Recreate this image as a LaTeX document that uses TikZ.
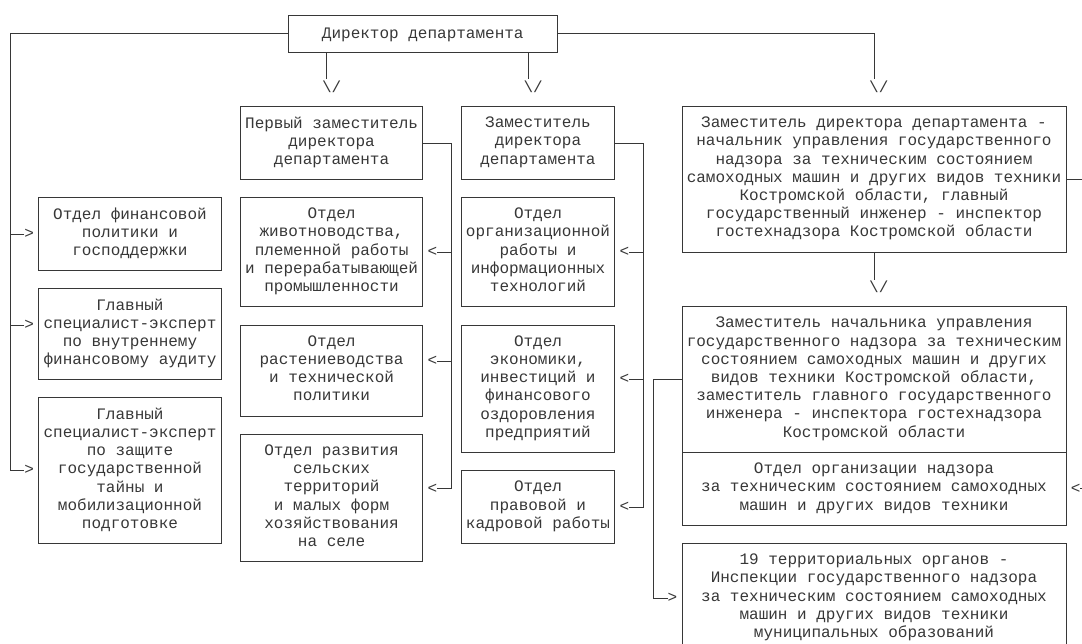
\documentclass[tikz,border=0pt]{standalone}
\usepackage{fontspec}
\newfontfamily\cmono{Liberation Mono}
\newcommand\rs{\rule[-4.9pt]{0pt}{18.2pt}}
\definecolor{ln}{RGB}{55,55,55}
\definecolor{tx}{RGB}{55,55,55}
\begin{document}
\begin{tikzpicture}[x=9.6pt,y=-18.2pt,
  box/.style={draw=ln, line width=0.9pt, rectangle, inner sep=0pt, outer sep=0pt,
    align=center, font={\cmono\fontsize{16pt}{18.2pt}\selectfont}, text=tx,
    execute at begin node=\rs, execute at end node=\rs},
  sz/.style 2 args={minimum width=#1*9.6pt, minimum height=#2*18.2pt},
  glyph/.style={inner sep=0pt, outer sep=0pt, font={\cmono\fontsize{16pt}{18.2pt}\selectfont},
    text=tx, execute at begin node=\rs},
  conn/.style={draw=ln, line width=0.9pt}]
\useasboundingbox (-1.0417,-0.8626) rectangle (111.6667,34.522);

% boxes
\node[box, sz={28}{2}] (dir) at (43,1) {Директор департамента};
\node[box, sz={19}{4}] (fd) at (33.5,7) {Первый заместитель\\директора\\департамента};
\node[box, sz={16}{4}] (dep) at (55,7) {Заместитель\\директора\\департамента};
\node[box, sz={40}{8}] (rb) at (90,9) {Заместитель директора департамента -\\начальник управления государственного\\надзора за техническим состоянием\\самоходных машин и других видов техники\\Костромской области, главный\\государственный инженер - инспектор\\гостехнадзора Костромской области};

\node[box, sz={19}{4}] (b1) at (12.5,12) {Отдел финансовой\\политики и\\господдержки};
\node[box, sz={19}{5}] (b2) at (12.5,17.5) {Главный\\специалист-эксперт\\по внутреннему\\финансовому аудиту};
\node[box, sz={19}{8}] (b3) at (12.5,25) {Главный\\специалист-эксперт\\по защите\\государственной\\тайны и\\мобилизационной\\подготовке};

\node[box, sz={19}{6}] (d1) at (33.5,13) {Отдел\\животноводства,\\племенной работы\\и перерабатывающей\\промышленности};
\node[box, sz={19}{5}] (d2) at (33.5,19.5) {Отдел\\растениеводства\\и технической\\политики};
\node[box, sz={19}{7}] (d3) at (33.5,26.5) {Отдел развития\\сельских\\территорий\\и малых форм\\хозяйствования\\на селе};

\node[box, sz={16}{6}] (e1) at (55,13) {Отдел\\организационной\\работы и\\информационных\\технологий};
\node[box, sz={16}{7}] (e2) at (55,20.5) {Отдел\\экономики,\\инвестиций и\\финансового\\оздоровления\\предприятий};
\node[box, sz={16}{4}] (e3) at (55,27) {Отдел\\правовой и\\кадровой работы};

\node[box, sz={40}{8}] (dc) at (90,20) {Заместитель начальника управления\\государственного надзора за техническим\\состоянием самоходных машин и других\\видов техники Костромской области,\\заместитель главного государственного\\инженера - инспектора гостехнадзора\\Костромской области};
\node[box, sz={40}{4}] (sub) at (90,26) {Отдел организации надзора\\за техническим состоянием самоходных\\машин и других видов техники};
\node[box, sz={40}{6}] (t19) at (90,32) {19 территориальных органов -\\Инспекции государственного надзора\\за техническим состоянием самоходных\\машин и других видов техники\\муниципальных образований};

% arrow glyphs
\node[glyph] (v1) at (33.5,4) {\textbackslash/};
\node[glyph] (v2) at (54.5,4) {\textbackslash/};
\node[glyph] (v3) at (90.5,4) {\textbackslash/};
\node[glyph] (v4) at (90.5,15) {\textbackslash/};

\node[glyph] (ga1) at (2,12) {>};
\node[glyph] (ga2) at (2,17) {>};
\node[glyph] (ga3) at (2,25) {>};
\node[glyph] (ga4) at (69,32) {>};

\node[glyph] (gl1) at (44,13) {<};
\node[glyph] (gl2) at (44,19) {<};
\node[glyph] (gl3) at (44,26) {<};
\node[glyph] (gl4) at (64,13) {<};
\node[glyph] (gl5) at (64,20) {<};
\node[glyph] (gl6) at (64,27) {<};
\node[glyph] (gl7) at (111,26) {<};

% connector coordinates
\coordinate (lc) at (0,25);
\coordinate (t1) at (33,3.5);
\coordinate (t2) at (54,3.5);
\coordinate (t3) at (90,3.5);
\coordinate (t4) at (90,14.5);
\coordinate (m1) at (46,26);
\coordinate (m2) at (66,27);
\coordinate (m3) at (112,26);
\coordinate (m4) at (67,32);

% connectors
\draw[conn] (dir.west) -| (lc) -- (ga3.west);
\draw[conn] (ga1.west) -- (ga1.west -| lc);
\draw[conn] (ga2.west) -- (ga2.west -| lc);

\draw[conn] (dir.south -| t1) -- (t1);
\draw[conn] (dir.south -| t2) -- (t2);
\draw[conn] (dir.east) -| (t3);
\draw[conn] (rb.south) -- (t4);

\draw[conn] (fd.east) -| (m1) -- (gl3.east);
\draw[conn] (gl1.east) -- (gl1.east -| m1);
\draw[conn] (gl2.east) -- (gl2.east -| m1);

\draw[conn] (dep.east) -| (m2) -- (gl6.east);
\draw[conn] (gl4.east) -- (gl4.east -| m2);
\draw[conn] (gl5.east) -- (gl5.east -| m2);

\draw[conn] (rb.east) -| (m3) -- (gl7.east);
\draw[conn] (dc.west) -| (m4) -- (ga4.west);
\end{tikzpicture}
\end{document}
